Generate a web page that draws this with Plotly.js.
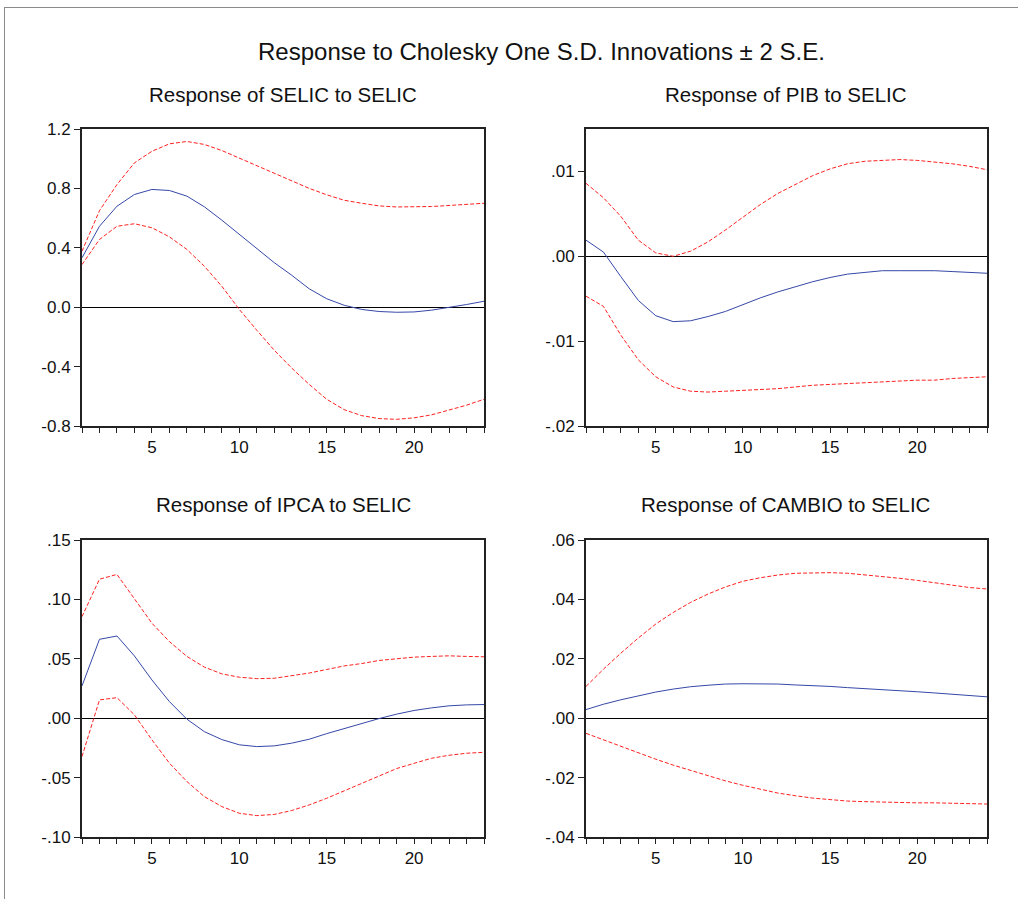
<!DOCTYPE html>
<html>
<head>
<meta charset="utf-8">
<script src="https://cdn.plot.ly/plotly-3.0.1.min.js"></script>
<style>
  html, body { margin: 0; padding: 0; background: #fff; }
  #wrap { position: relative; width: 1018px; height: 899px; }
  #frame { position: absolute; left: 4px; top: 7px; width: 1014px; height: 892px;
           border-top: 1px solid #8a8a8a; border-left: 1px solid #8a8a8a; box-sizing: border-box; pointer-events: none; }
  #chart { position: absolute; left: 0; top: 0; width: 1018px; height: 899px; }
</style>
</head>
<body>
<div id="wrap">
  <div id="chart"></div>
  <div id="frame"></div>
</div>
<script>
// Periods
var periods = [1,2,3,4,5,6,7,8,9,10,11,12,13,14,15,16,17,18,19,20,21,22,23,24];

// Response of SELIC to SELIC
var selicResp  = [0.333,0.545,0.68,0.759,0.793,0.786,0.748,0.676,0.586,0.49,0.395,0.30,0.215,0.124,0.057,0.013,-0.015,-0.029,-0.034,-0.032,-0.02,-0.002,0.018,0.04];
var selicUpper = [0.377,0.65,0.826,0.972,1.05,1.10,1.116,1.096,1.055,1.005,0.952,0.90,0.85,0.80,0.757,0.72,0.70,0.682,0.675,0.675,0.678,0.685,0.69,0.70];
var selicLower = [0.287,0.456,0.545,0.562,0.535,0.474,0.389,0.276,0.141,-0.015,-0.155,-0.29,-0.41,-0.52,-0.62,-0.69,-0.73,-0.75,-0.755,-0.745,-0.725,-0.695,-0.66,-0.62];

// Response of PIB to SELIC
var pibResp  = [0.0019,0.0005,-0.0024,-0.0052,-0.0070,-0.0077,-0.0076,-0.0071,-0.0065,-0.0057,-0.0049,-0.0042,-0.0036,-0.0030,-0.0025,-0.0021,-0.0019,-0.0017,-0.0017,-0.0017,-0.0017,-0.0018,-0.0019,-0.0020];
var pibUpper = [0.0086,0.0069,0.0047,0.0019,0.0004,0.0000,0.0006,0.0017,0.0031,0.0046,0.0061,0.0074,0.0085,0.0095,0.0103,0.0109,0.0112,0.0113,0.0114,0.0113,0.0111,0.0109,0.0106,0.0102];
var pibLower = [-0.0047,-0.0059,-0.0093,-0.0122,-0.0142,-0.0154,-0.0159,-0.0160,-0.0159,-0.0158,-0.0157,-0.0156,-0.0154,-0.0152,-0.0151,-0.0150,-0.0149,-0.0148,-0.0147,-0.0146,-0.0146,-0.0144,-0.0143,-0.0142];

// Response of IPCA to SELIC
var ipcaResp  = [0.0272,0.0664,0.0692,0.0524,0.0322,0.014,-0.0008,-0.0113,-0.018,-0.0224,-0.0239,-0.0233,-0.021,-0.0177,-0.013,-0.0087,-0.0042,-0.0003,0.0034,0.0065,0.0087,0.0104,0.0112,0.0115];
var ipcaUpper = [0.0855,0.117,0.121,0.101,0.080,0.0645,0.052,0.043,0.0373,0.0345,0.0333,0.0336,0.0356,0.038,0.041,0.044,0.046,0.0486,0.050,0.0514,0.052,0.0525,0.052,0.0517];
var ipcaLower = [-0.0323,0.0154,0.0173,0.0028,-0.0182,-0.0378,-0.0533,-0.066,-0.0744,-0.080,-0.082,-0.081,-0.0777,-0.073,-0.0674,-0.061,-0.0548,-0.0483,-0.0424,-0.038,-0.0337,-0.0312,-0.0295,-0.0287];

// Response of CAMBIO to SELIC
var cambioResp  = [0.0029,0.0047,0.0062,0.0075,0.0088,0.0098,0.0106,0.0111,0.0115,0.0116,0.0116,0.0115,0.0112,0.0110,0.0107,0.0103,0.0100,0.0096,0.0092,0.0089,0.0085,0.0081,0.0076,0.0072];
var cambioUpper = [0.0107,0.0165,0.0219,0.027,0.0317,0.0356,0.039,0.0418,0.0442,0.0461,0.0473,0.0482,0.0488,0.049,0.049,0.0488,0.0483,0.0478,0.0471,0.0464,0.0456,0.0448,0.044,0.0435];
var cambioLower = [-0.0051,-0.0073,-0.0096,-0.0118,-0.0138,-0.0158,-0.0176,-0.0194,-0.0211,-0.0226,-0.0239,-0.0252,-0.0261,-0.0269,-0.0274,-0.0279,-0.0281,-0.0283,-0.0284,-0.0285,-0.0285,-0.0287,-0.0287,-0.0289];

// Texts and tick labels
var mainTitle = "Response to Cholesky One S.D. Innovations \u00b1 2 S.E.";
var panelTitles = ["Response of SELIC to SELIC","Response of PIB to SELIC","Response of IPCA to SELIC","Response of CAMBIO to SELIC"];
var xTickVals = [5,10,15,20];
var xTickText = ["5","10","15","20"];
var selicTickVals = [1.2,0.8,0.4,0.0,-0.4,-0.8];
var selicTickText = ["1.2","0.8","0.4","0.0","-0.4","-0.8"];
var pibTickVals = [0.01,0.0,-0.01,-0.02];
var pibTickText = [".01",".00","-.01","-.02"];
var ipcaTickVals = [0.15,0.10,0.05,0.0,-0.05,-0.10];
var ipcaTickText = [".15",".10",".05",".00","-.05","-.10"];
var cambioTickVals = [0.06,0.04,0.02,0.0,-0.02,-0.04];
var cambioTickText = [".06",".04",".02",".00","-.02","-.04"];

var W = 1018, H = 899;
var blue = "#3548a8", red = "#ff2020";

function tr(y, ax, isBand) {
  var s = ax === 1 ? "" : String(ax);
  return {
    x: periods, y: y, type: "scatter", mode: "lines",
    xaxis: "x" + s, yaxis: "y" + s, hoverinfo: "skip",
    line: isBand ? {color: red, width: 1, dash: "4px,2px"} : {color: blue, width: 1}
  };
}

var data = [
  tr(selicUpper,1,true), tr(selicLower,1,true), tr(selicResp,1,false),
  tr(pibUpper,2,true), tr(pibLower,2,true), tr(pibResp,2,false),
  tr(ipcaUpper,3,true), tr(ipcaLower,3,true), tr(ipcaResp,3,false),
  tr(cambioUpper,4,true), tr(cambioLower,4,true), tr(cambioResp,4,false)
];

var font = {family: "Liberation Sans, Arial, sans-serif", size: 17, color: "#111"};

function xax(dom, anchor) {
  return {
    domain: dom, anchor: anchor, range: [1, 24],
    tickmode: "array", tickvals: xTickVals, ticktext: xTickText,
    ticks: "outside", ticklen: 5, tickwidth: 1, tickcolor: "#222",
    minor: {tickmode: "linear", tick0: 0, dtick: 1, ticks: "outside", ticklen: 5, tickwidth: 1, tickcolor: "#222"},
    showline: true, linecolor: "#222", linewidth: 2, mirror: true,
    showgrid: false, zeroline: false, fixedrange: true,
    tickfont: font
  };
}
function yax(dom, anchor, range, tv, tt) {
  return {
    domain: dom, anchor: anchor, range: range,
    tickmode: "array", tickvals: tv, ticktext: tt,
    ticks: "outside", ticklen: 6, tickwidth: 1, tickcolor: "#222",
    showline: true, linecolor: "#222", linewidth: 2, mirror: true,
    showgrid: false, zeroline: true, zerolinecolor: "#000", zerolinewidth: 1,
    fixedrange: true, tickfont: font
  };
}

var xL = [82/W, 484/W], xR = [586/W, 987/W];
var yT = [1 - 426/H, 1 - 129/H], yB = [1 - 837/H, 1 - 540/H];

function ann(text, xpx, ypx, size) {
  return {text: text, x: xpx / W, y: 1 - ypx / H, xref: "paper", yref: "paper",
          showarrow: false, xanchor: "center", yanchor: "middle",
          font: {family: "Liberation Sans, Arial, sans-serif", size: size, color: "#111"}};
}

var layout = {
  width: W, height: H,
  margin: {l: 0, r: 0, t: 0, b: 0},
  paper_bgcolor: "#fff", plot_bgcolor: "#fff",
  showlegend: false,
  xaxis: xax(xL, "y"), yaxis: yax(yT, "x", [-0.8, 1.2], selicTickVals, selicTickText),
  xaxis2: xax(xR, "y2"), yaxis2: yax(yT, "x2", [-0.02, 0.015], pibTickVals, pibTickText),
  xaxis3: xax(xL, "y3"), yaxis3: yax(yB, "x3", [-0.10, 0.15], ipcaTickVals, ipcaTickText),
  xaxis4: xax(xR, "y4"), yaxis4: yax(yB, "x4", [-0.04, 0.06], cambioTickVals, cambioTickText),
  annotations: [
    ann(mainTitle, 541, 52, 24),
    ann(panelTitles[0], 283, 95, 20.5),
    ann(panelTitles[1], 786, 95, 20.5),
    ann(panelTitles[2], 283, 504, 20.5),
    ann(panelTitles[3], 786, 504, 20.5)
  ]
};

Plotly.newPlot("chart", data, layout, {displayModeBar: false, staticPlot: true});
</script>
</body>
</html>
